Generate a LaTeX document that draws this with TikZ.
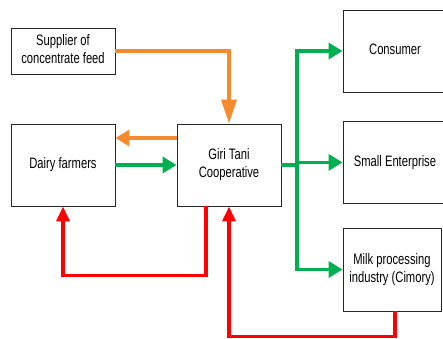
\documentclass[tikz,border=0pt]{standalone}
\usepackage{fontspec}
\setmainfont{Liberation Sans}
\usetikzlibrary{arrows.meta}
\newcommand\vtxt[1]{\scalebox{1}[1.35]{\begin{tabular}{@{}c@{}}#1\end{tabular}}}
\definecolor{corange}{HTML}{F58A2E}
\definecolor{cgreen}{HTML}{00B050}
\definecolor{cred}{HTML}{FF0000}
\tikzset{
  box/.style={draw=black!85, line width=0.9pt, fill=white, inner sep=0pt, font=\fontsize{11.2}{13.6}\selectfont},
  flow/.style={line width=3.6pt, -{Triangle[length=14pt,width=16pt]}},
  org/.style={flow, draw=corange},
  grn/.style={flow, draw=cgreen},
  rd/.style={flow, draw=cred, -{Triangle[length=15pt,width=13pt]}},
}
\begin{document}
\begin{tikzpicture}[x=1pt,y=-1pt]
\useasboundingbox (0,0) rectangle (443,338);
\clip (0,0) rectangle (443,338);
\node[box, minimum width=104pt, minimum height=46pt] (sup) at (63,51) {\vtxt{Supplier of\\concentrate feed}};
\node[box, minimum width=104pt, minimum height=82pt] (dairy) at (63,165) {\vtxt{Dairy farmers}};
\node[box, minimum width=104pt, minimum height=82pt] (giri) at (229,165) {\vtxt{Giri Tani\\Cooperative}};
\node[box, minimum width=104pt, minimum height=82pt] (cons) at (395,51) {\vtxt{Consumer}};
\node[box, minimum width=104pt, minimum height=82pt] (small) at (395,162.4) {\vtxt{Small Enterprise}};
\node[box, minimum width=98pt, minimum height=83pt] (milk) at (392,269.5) {\vtxt{Milk processing\\industry (Cimory)}};
% orange
\draw[org, -{Triangle[length=24pt,width=15pt]}] (sup.east) -| (giri.north);
\draw[org] ([yshift=27pt]giri.west) -- ([yshift=27pt]dairy.east);
% green
\draw[grn] (dairy.east) -- (giri.west);
\coordinate (split) at (297,165);
\draw[cgreen, line width=3.6pt] (giri.east) -- (split);
\draw[grn] (split) |- (cons.west);
\draw[grn] (split) |- (small.west);
\draw[grn] (split) |- (milk.west);
% red
\draw[rd] ([xshift=-23pt]giri.south) -- ++(0,69) -| (dairy.south);
\draw[rd] ([xshift=3pt]milk.south) -- ++(0,25) -| (giri.south);
\end{tikzpicture}
\end{document}
